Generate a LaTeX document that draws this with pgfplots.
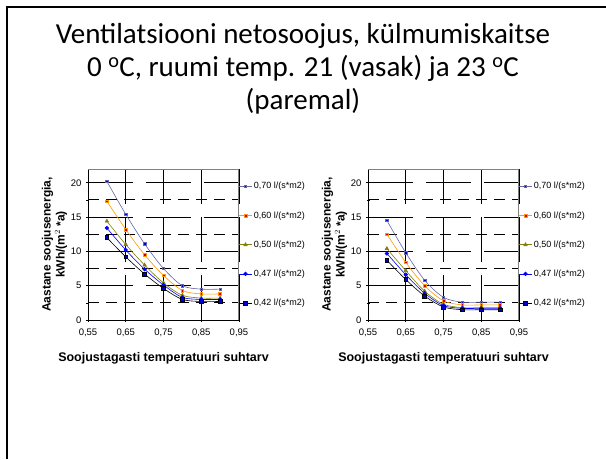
\documentclass[border=0pt]{standalone}
\usepackage{pgfplots}
\pgfplotsset{compat=1.18}
\usepackage{fontspec}
\setmainfont{Liberation Sans}
\newfontfamily\titlefont{Carlito}

\definecolor{c70}{RGB}{102,102,170}
\definecolor{c60}{RGB}{255,153,0}
\definecolor{c50}{RGB}{128,128,0}
\definecolor{c47}{RGB}{0,0,255}
\definecolor{c42}{RGB}{0,0,0}
\definecolor{frame}{RGB}{128,128,128}

\pgfplotsset{
  mystyle/.style={
    scale only axis, width=151pt, height=151pt,
    xmin=0.55, xmax=0.95, ymin=0, ymax=22,
    xtick={0.55,0.65,0.75,0.85,0.95},
    xticklabels={{0,55},{0,65},{0,75},{0,85},{0,95}},
    ytick={0,5,10,15,20},
    minor ytick={2.5,7.5,12.5,17.5},
    ymajorgrids, yminorgrids, xmajorgrids,
    major grid style={black, line width=0.8pt, dash pattern=on 45pt off 13pt},
    minor grid style={black, line width=0.8pt, dash pattern=on 11pt off 7pt},
    axis line style={draw=none},
    tick style={black, line width=0.6pt},
    tick align=center,
    major tick length=4pt, minor tick length=3pt,
    xtick pos=bottom, ytick pos=left,
    tick label style={font=\fontsize{9.5}{10}\selectfont},
    xticklabel style={yshift=-3pt},
    yticklabel style={xshift=-1pt},
    /pgf/number format/assume math mode=true,
    xlabel={Soojustagasti temperatuuri suhtarv},
    xlabel style={font=\bfseries\fontsize{12.5}{14}\selectfont, yshift=-9pt},
    ylabel={Aastane soojusenergia,\\kWh/(m$^{2}$ *a)},
    ylabel style={font=\bfseries\fontsize{12}{14}\selectfont, align=center, yshift=-3pt},
    legend style={draw=none, fill=none, at={(1.0,0.94)}, anchor=north west,
      font=\fontsize{9}{9.5}\selectfont, row sep=17.2pt, inner xsep=0pt},
    legend cell align=left,
    legend image code/.code={\draw[mark repeat=2,mark phase=2] plot coordinates {(0pt,0pt) (6pt,0pt) (12pt,0pt)};},
    every axis plot/.append style={smooth, line width=0.6pt},
  },
  s70/.style={color=c70, mark=square*, mark size=1.2pt},
  s60/.style={color=c60, mark=square*, mark size=1.4pt},
  s50/.style={color=c50, mark=triangle*, mark size=2pt},
  s47/.style={color=c47, mark=*, mark size=1.8pt},
  s42/.style={color=c42, mark=square*, mark size=1.9pt},
}

\begin{document}
\begin{tikzpicture}
\useasboundingbox (0pt,0pt) rectangle (606pt,-459pt);
\draw[line width=2pt] (7pt,-459pt) -- (7pt,-7pt) -- (606pt,-7pt);
\node[font=\titlefont\fontsize{29}{33}\selectfont, align=center] at (303pt,-69pt)
  {Ventilatsiooni netosoojus, külmumiskaitse\\0 \textsuperscript{o}C, ruumi temp. 21 (vasak) ja 23 \textsuperscript{o}C\\(paremal)};

\begin{axis}[mystyle, at={(88pt,-320pt)}, anchor=south west]
\addplot+[s70] coordinates {(0.60,20.2) (0.65,15.4) (0.70,11.1) (0.75,7.5) (0.80,5.0) (0.85,4.5) (0.90,4.5)};
\addlegendentry{0,70 l/(s*m2)}
\addplot+[s60] coordinates {(0.60,17.3) (0.65,13.2) (0.70,9.5) (0.75,6.5) (0.80,4.3) (0.85,3.8) (0.90,3.8)};
\addlegendentry{0,60 l/(s*m2)}
\addplot+[s50] coordinates {(0.60,14.4) (0.65,11.0) (0.70,8.0) (0.75,5.4) (0.80,3.6) (0.85,3.2) (0.90,3.2)};
\addlegendentry{0,50 l/(s*m2)}
\addplot+[s47] coordinates {(0.60,13.4) (0.65,10.2) (0.70,7.4) (0.75,5.1) (0.80,3.3) (0.85,3.0) (0.90,3.0)};
\addlegendentry{0,47 l/(s*m2)}
\addplot+[s42] coordinates {(0.60,12.0) (0.65,9.2) (0.70,6.7) (0.75,4.6) (0.80,3.0) (0.85,2.7) (0.90,2.7)};
\addlegendentry{0,42 l/(s*m2)}
\draw[black, line width=0.8pt] (rel axis cs:0,1) -- (rel axis cs:0,0) -- (rel axis cs:1,0);
\draw[frame, line width=1.3pt] (rel axis cs:0,1) -- (rel axis cs:1,1) -- (rel axis cs:1,0);
\end{axis}

\begin{axis}[mystyle, at={(368pt,-320pt)}, anchor=south west]
\addplot+[s70] coordinates {(0.60,14.5) (0.65,9.8) (0.70,5.8) (0.75,3.3) (0.80,2.6) (0.85,2.6) (0.90,2.6)};
\addlegendentry{0,70 l/(s*m2)}
\addplot+[s60] coordinates {(0.60,12.5) (0.65,8.4) (0.70,5.0) (0.75,2.8) (0.80,2.2) (0.85,2.2) (0.90,2.2)};
\addlegendentry{0,60 l/(s*m2)}
\addplot+[s50] coordinates {(0.60,10.4) (0.65,7.2) (0.70,4.2) (0.75,2.3) (0.80,1.8) (0.85,1.8) (0.90,1.8)};
\addlegendentry{0,50 l/(s*m2)}
\addplot+[s47] coordinates {(0.60,9.7) (0.65,6.6) (0.70,3.9) (0.75,2.1) (0.80,1.7) (0.85,1.7) (0.90,1.7)};
\addlegendentry{0,47 l/(s*m2)}
\addplot+[s42] coordinates {(0.60,8.7) (0.65,5.9) (0.70,3.5) (0.75,1.9) (0.80,1.5) (0.85,1.5) (0.90,1.5)};
\addlegendentry{0,42 l/(s*m2)}
\draw[black, line width=0.8pt] (rel axis cs:0,1) -- (rel axis cs:0,0) -- (rel axis cs:1,0);
\draw[frame, line width=1.3pt] (rel axis cs:0,1) -- (rel axis cs:1,1) -- (rel axis cs:1,0);
\end{axis}
\end{tikzpicture}
\end{document}
